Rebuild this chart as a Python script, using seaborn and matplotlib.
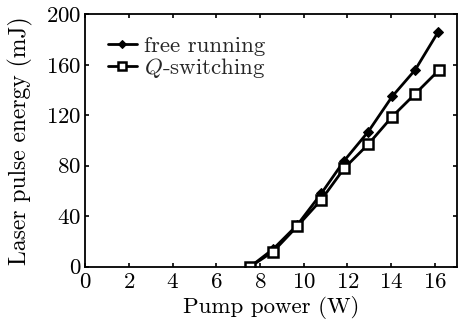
import matplotlib
matplotlib.use("Agg")
import matplotlib.pyplot as plt
import seaborn as sns
import pandas as pd

pump_free = [7.55, 8.6, 9.7, 10.8, 11.85, 12.95, 14.05, 15.1, 16.15]
energy_free = [0, 14, 33, 58, 84, 107, 135, 156, 186]
pump_q = [7.55, 8.6, 9.7, 10.8, 11.85, 12.95, 14.05, 15.1, 16.2]
energy_q = [0, 12, 32, 53, 78, 97, 119, 137, 156]

sns.set_theme(style="ticks")
plt.rcParams['font.family'] = ['cmr10', 'DejaVu Serif']
plt.rcParams['mathtext.fontset'] = 'cm'
plt.rcParams['axes.formatter.use_mathtext'] = True

fig = plt.figure(figsize=(4.59, 3.26), dpi=100)
ax = fig.add_axes([0.186, 0.182, 0.809, 0.774])

df_free = pd.DataFrame({"x": pump_free, "y": energy_free})
df_q = pd.DataFrame({"x": pump_q, "y": energy_q})

sns.lineplot(data=df_free, x="x", y="y", ax=ax, color="black", lw=2,
             marker="D", markersize=5, markerfacecolor="black",
             markeredgecolor="black", label="free running")
sns.lineplot(data=df_q, x="x", y="y", ax=ax, color="black", lw=2,
             marker="s", markersize=6.5, markerfacecolor="white",
             markeredgecolor="black", markeredgewidth=1.8,
             label=r"$Q$-switching")

ax.set_xlim(0, 17)
ax.set_ylim(0, 200)
ax.set_xticks(range(0, 17, 2))
ax.set_yticks(range(0, 201, 40))
ax.tick_params(direction="in", top=True, right=True, length=3, width=1.2,
               labelsize=16.5, colors="black", pad=3)
ax.tick_params(axis="x", pad=4)
for s in ax.spines.values():
    s.set_linewidth(1.3)
    s.set_color("black")
ax.set_xlabel("Pump power (W)", fontsize=16.5, color="black", labelpad=3)
ax.set_ylabel("Laser pulse energy (mJ)", fontsize=17, color="black", labelpad=9)

leg = ax.legend(loc="upper left", frameon=False, fontsize=16.5,
                handlelength=1.3, handletextpad=0.3, labelspacing=0.0,
                borderaxespad=0.0, bbox_to_anchor=(0.035, 0.95),
                markerscale=0.8)

fig.savefig("out.png", dpi=100)
